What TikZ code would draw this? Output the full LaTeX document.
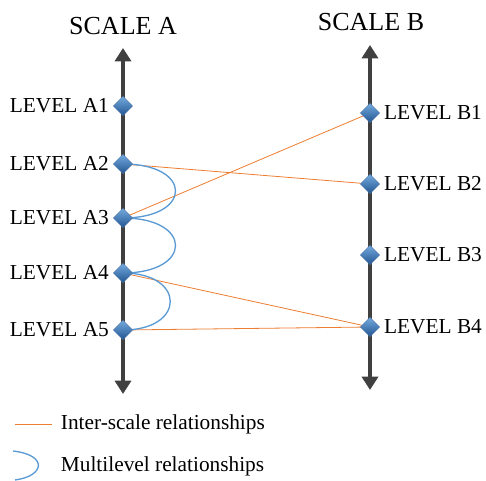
\documentclass[tikz,border=0pt]{standalone}
\usepackage{fontspec}
\setmainfont{Liberation Serif}
\definecolor{AxisGray}{RGB}{64, 64, 64}
\definecolor{LinkOrange}{RGB}{237, 125, 49}
\definecolor{MultiBlue}{RGB}{91, 155, 213}
\definecolor{GemLight}{RGB}{115, 170, 222}
\definecolor{GemDark}{RGB}{35, 85, 145}
\usetikzlibrary{arrows.meta, positioning, shapes.geometric, calc}

\begin{document}
\begin{tikzpicture}[x={(0.75pt,0)}, y={(0,-0.75pt)},
    axis/.style={line width=2.6pt, AxisGray, {Triangle[length=10pt, width=12pt]}-{Triangle[length=10pt, width=12pt]}},
    gem/.style={diamond, minimum width=14.5pt, minimum height=14.5pt, inner sep=0pt,
                top color=GemLight, bottom color=GemDark, draw=GemDark!80, line width=0.3pt},
    link/.style={LinkOrange, line width=0.6pt},
    multi/.style={MultiBlue, line width=1pt},
    lvl/.style={font=\fontsize{16}{18}\selectfont, inner sep=2pt}]
            \useasboundingbox (0,0) rectangle (486,481);

            % Axes
            \coordinate (atop) at (123,48);
            \coordinate (abot) at (123,394);
            \coordinate (btop) at (370,45);
            \coordinate (bbot) at (370,390);
            \draw[axis] (abot) -- (atop);
            \draw[axis] (bbot) -- (btop);
            \node[font=\fontsize{19.5}{22}\selectfont] (scaleA) at (123,26) {SCALE A};
            \node[font=\fontsize{19.5}{22}\selectfont] (scaleB) at (371,22) {SCALE B};

            % Level positions
            \foreach \n/\y in {1/106, 2/164, 3/218, 4/273, 5/330} {
                \coordinate (a\n) at (123,\y);
            }
            \foreach \n/\y in {1/113, 2/184, 3/255, 4/327} {
                \coordinate (b\n) at (370,\y);
            }

            % Inter-scale relationships
            \foreach \s/\t in {a2/b2, a3/b1, a4/b4, a5/b4} {
                \draw[link] (\s) -- (\t);
            }

            % Multilevel relationships
            \draw[multi] (a2) .. controls +(70,0) and +(70,0) .. (a3);
            \draw[multi] (a3) .. controls +(70,0) and +(70,0) .. (a4);
            \draw[multi] (a4) .. controls +(63,0) and +(63,0) .. (a5);

            % Levels
            \foreach \n in {1,...,5} {
                \node[gem] (ga\n) at (a\n) {};
                \node[lvl, left=1pt of ga\n] (la\n) {LEVEL A\n};
            }
            \foreach \n in {1,...,4} {
                \node[gem] (gb\n) at (b\n) {};
                \node[lvl, right=1pt of gb\n] (lb\n) {LEVEL B\n};
            }

            % Legend
            \coordinate (k1) at (15,424);
            \coordinate (k2) at (52,424);
            \draw[link] (k1) -- (k2);
            \node[lvl, anchor=west] (klink) at (58,424) {Inter-scale relationships};
            \coordinate (k3) at (13,451);
            \coordinate (k4) at (15,480);
            \draw[multi] (k3) .. controls (48,455) and (45,476) .. (k4);
            \node[lvl, anchor=west] (kmulti) at (58,466) {Multilevel relationships};
\end{tikzpicture}
\end{document}
